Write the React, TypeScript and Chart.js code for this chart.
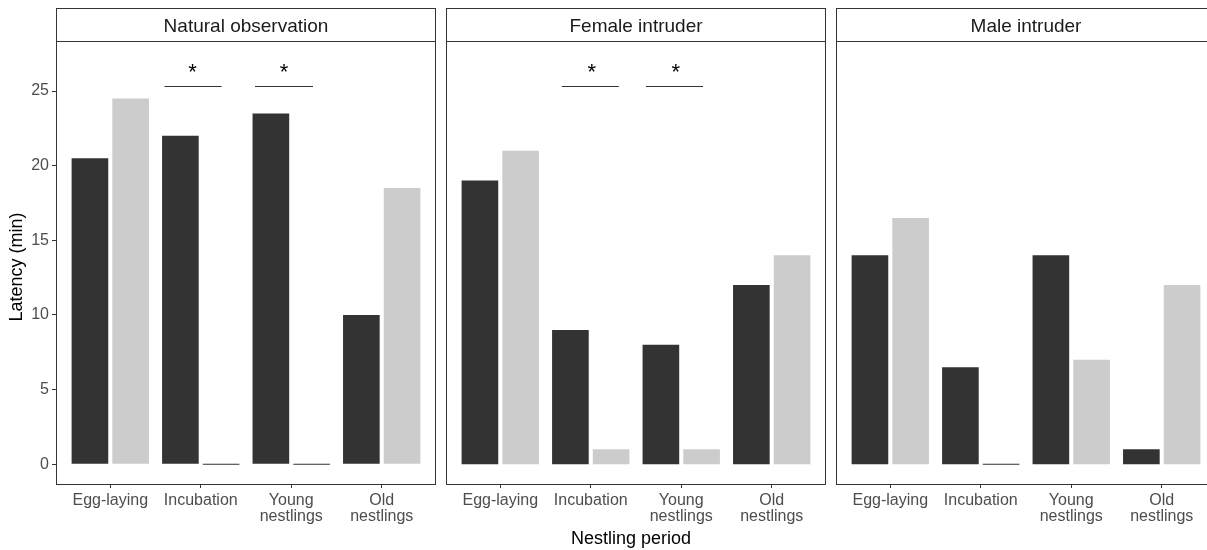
import React, { useEffect, useRef } from "react";
import { Chart, registerables } from "chart.js";

Chart.register(...registerables);

const FONT = "'Liberation Sans', Arial, sans-serif";

const categories: string[][] = [["Egg-laying"], ["Incubation"], ["Young", "nestlings"], ["Old", "nestlings"]];
const panelTitles = ["Natural observation", "Female intruder", "Male intruder"];

const darkNatural = [20.5, 22, 23.5, 10];
const lightNatural = [24.5, 0, 0, 18.5];
const darkFemale = [19, 9, 8, 12];
const lightFemale = [21, 1, 1, 14];
const darkMale = [14, 6.5, 14, 1];
const lightMale = [16.5, 0, 7, 12];

const yTicks = [0, 5, 10, 15, 20, 25];
const yMin = -1.32;
const yMax = 28.35;

const sigLineY = 25.35;
const sigStarY = 25.78;
const sigNatural = [
  { cat: 1, from: -0.4, to: 0.23, star: -0.09 },
  { cat: 2, from: -0.4, to: 0.24, star: -0.08 },
];
const sigFemale = [
  { cat: 1, from: -0.32, to: 0.31, star: 0.01 },
  { cat: 2, from: -0.39, to: 0.24, star: -0.06 },
];
const sigMale: { cat: number; from: number; to: number; star: number }[] = [];

const yTitle = "Latency (min)";
const xTitle = "Nestling period";

const DARK = "#333333";
const LIGHT = "#cccccc";

type PanelDef = {
  idx: number;
  left: number;
  width: number;
  padLeft: number;
  padRight: number;
  dark: number[];
  light: number[];
  sig: { cat: number; from: number; to: number; star: number }[];
};

const panels: PanelDef[] = [
  { idx: 0, left: 0, width: 440, padLeft: 0, padRight: 4, dark: darkNatural, light: lightNatural, sig: sigNatural },
  { idx: 1, left: 440, width: 390, padLeft: 6, padRight: 4, dark: darkFemale, light: lightFemale, sig: sigFemale },
  { idx: 2, left: 830, width: 390, padLeft: 6, padRight: 4, dark: darkMale, light: lightMale, sig: sigMale },
];

function Panel({ def }: { def: PanelDef }) {
  const ref = useRef<HTMLCanvasElement | null>(null);
  useEffect(() => {
    if (!ref.current) return;
    const showY = def.idx === 0;
    const decor = {
      id: "decor",
      afterDraw(chart: any) {
        const { ctx, chartArea: a } = chart;
        const xs = chart.scales.x;
        const ys = chart.scales.y;
        ctx.save();
        // panel border
        ctx.strokeStyle = "#333333";
        ctx.lineWidth = 1;
        ctx.strokeRect(a.left + 0.5, a.top + 0.5, a.right - a.left - 1, a.bottom - a.top);
        // strip
        ctx.fillStyle = "#ffffff";
        ctx.fillRect(a.left + 0.5, 8.5, a.right - a.left - 1, 33);
        ctx.strokeStyle = "#333333";
        ctx.strokeRect(a.left + 0.5, 8.5, a.right - a.left - 1, 33);
        ctx.fillStyle = "#1a1a1a";
        ctx.font = `19px ${FONT}`;
        ctx.textAlign = "center";
        ctx.textBaseline = "alphabetic";
        ctx.fillText(panelTitles[def.idx], (a.left + a.right) / 2, 32.3);
        // significance annotations
        for (const s of def.sig) {
          const x0 = xs.getPixelForValue(s.cat + s.from);
          const x1 = xs.getPixelForValue(s.cat + s.to);
          const ly = Math.round(ys.getPixelForValue(sigLineY)) + 0.5;
          ctx.strokeStyle = "#333333";
          ctx.lineWidth = 1.2;
          ctx.beginPath();
          ctx.moveTo(x0, ly);
          ctx.lineTo(x1, ly);
          ctx.stroke();
          ctx.fillStyle = "#000000";
          ctx.font = `22px ${FONT}`;
          ctx.textAlign = "center";
          ctx.textBaseline = "alphabetic";
          ctx.fillText("*", xs.getPixelForValue(s.cat + s.star), ys.getPixelForValue(sigStarY));
        }
        // axis titles
        ctx.fillStyle = "#000000";
        ctx.font = `18px ${FONT}`;
        if (def.idx === 0) {
          ctx.save();
          ctx.translate(22, 267);
          ctx.rotate(-Math.PI / 2);
          ctx.textAlign = "center";
          ctx.textBaseline = "alphabetic";
          ctx.fillText(yTitle, 0, 0);
          ctx.restore();
        }
        if (def.idx === 1) {
          ctx.textAlign = "center";
          ctx.textBaseline = "alphabetic";
          ctx.fillText(xTitle, 631 - def.left, 544);
        }
        ctx.restore();
      },
    };
    const chart = new Chart(ref.current, {
      type: "bar",
      data: {
        datasets: [
          {
            label: "dark",
            data: def.dark.map((v, i) => ({ x: i, y: v })),
            backgroundColor: DARK,
            borderWidth: 0,
            categoryPercentage: 0.9,
            barPercentage: 0.9,
            minBarLength: 1,
          },
          {
            label: "light",
            data: def.light.map((v, i) => ({ x: i, y: v })),
            backgroundColor: (c: any) => (c.raw && c.raw.y === 0 ? DARK : LIGHT),
            borderWidth: 0,
            categoryPercentage: 0.9,
            barPercentage: 0.9,
            minBarLength: 1,
          },
        ],
      } as any,
      options: {
        responsive: false,
        maintainAspectRatio: false,
        animation: false,
        devicePixelRatio: 1,
        layout: { padding: { left: def.padLeft, right: def.padRight, top: 41, bottom: 0 } },
        plugins: { legend: { display: false }, tooltip: { enabled: false } },
        scales: {
          x: {
            type: "linear",
            min: -0.6,
            max: 3.6,
            offset: false,
            afterBuildTicks: (s: any) => {
              s.ticks = categories.map((_, i) => ({ value: i }));
            },
            afterFit: (s: any) => {
              s.height = 66;
            },
            ticks: {
              callback: (v: any) => categories[v as number],
              autoSkip: false,
              maxRotation: 0,
              minRotation: 0,
              color: "#4d4d4d",
              font: { size: 16, family: FONT, lineHeight: 1.0 },
              padding: 5,
            },
            grid: {
              display: true,
              drawOnChartArea: false,
              drawTicks: true,
              tickLength: 4,
              tickColor: "#333333",
              offset: false,
            },
            border: { display: false },
          },
          y: {
            type: "linear",
            display: showY,
            min: yMin,
            max: yMax,
            afterBuildTicks: (s: any) => {
              s.ticks = yTicks.map((v) => ({ value: v }));
            },
            afterFit: (s: any) => {
              s.width = showY ? 56 : 0;
            },
            ticks: {
              color: "#4d4d4d",
              font: { size: 16, family: FONT },
              padding: 3,
            },
            grid: {
              display: true,
              drawOnChartArea: false,
              drawTicks: true,
              tickLength: 4,
              tickColor: "#333333",
            },
            border: { display: false },
          },
        },
      } as any,
      plugins: [decor],
    });
    return () => chart.destroy();
  }, [def]);
  return (
    <canvas
      ref={ref}
      width={def.width}
      height={550}
      style={{ position: "absolute", left: def.left, top: 0, width: def.width, height: 550 }}
    />
  );
}

export default function App() {
  return (
    <div
      style={{
        position: "fixed",
        left: 0,
        top: 0,
        width: 1207,
        height: 550,
        overflow: "hidden",
        background: "#ffffff",
      }}
    >
      {panels.map((p) => (
        <Panel key={p.idx} def={p} />
      ))}
    </div>
  );
}
